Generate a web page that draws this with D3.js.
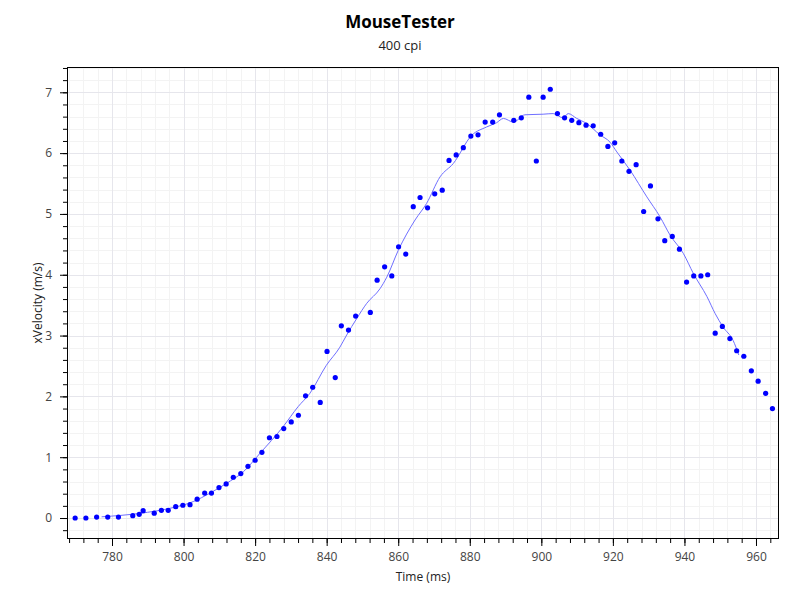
<!DOCTYPE html>
<html><head><meta charset="utf-8">
<script src="https://cdn.jsdelivr.net/npm/d3@7"></script>
<style>body{margin:0;background:#fff;} svg{display:block;font-family:"Open Sans","Noto Sans",sans-serif;}</style>
</head><body><svg id="c" width="800" height="600"></svg>
<script>
const title = "MouseTester";
const subtitle = "400 cpi";
const xTitle = "Time (ms)";
const yTitle = "xVelocity (m/s)";
const xTicks = [780, 800, 820, 840, 860, 880, 900, 920, 940, 960];
const yTicks = [0, 1, 2, 3, 4, 5, 6, 7];
// measured points
const pointTime = [769.7,772.7,775.7,778.8,781.8,785.8,787.6,788.7,791.8,793.8,795.7,797.8,799.8,801.8,803.8,805.9,807.8,809.9,811.9,813.9,816.0,818.0,820.0,821.9,824.0,826.1,828.0,830.1,832.1,834.1,836.1,838.2,840.1,842.4,844.1,846.1,848.1,852.2,854.1,856.2,858.2,860.1,862.1,864.2,866.1,868.2,870.2,872.3,874.2,876.2,878.2,880.3,882.3,884.3,886.4,888.3,892.3,894.4,896.5,898.6,900.5,902.5,904.5,906.5,908.5,910.5,912.5,914.5,916.6,918.6,920.5,922.5,924.5,926.5,928.6,930.5,932.6,934.5,936.6,938.6,940.6,942.6,944.6,946.5,948.6,950.6,952.7,954.6,956.6,958.7,960.6,962.7,964.6];
const pointVel = [0.0,0.0,0.016,0.016,0.016,0.038,0.06,0.12,0.08,0.127,0.127,0.186,0.21,0.22,0.31,0.41,0.41,0.50,0.56,0.67,0.73,0.85,0.95,1.08,1.32,1.34,1.47,1.58,1.69,2.01,2.15,1.90,2.74,2.31,3.16,3.09,3.32,3.38,3.91,4.13,3.98,4.46,4.34,5.12,5.27,5.10,5.33,5.39,5.88,5.97,6.09,6.28,6.30,6.51,6.51,6.63,6.54,6.58,6.92,5.87,6.92,7.05,6.65,6.58,6.54,6.50,6.46,6.45,6.31,6.11,6.17,5.87,5.70,5.81,5.04,5.46,4.92,4.56,4.63,4.42,3.88,3.98,3.98,4.00,3.04,3.15,2.95,2.75,2.66,2.42,2.25,2.05,1.80];
// smoothed line
const lineTime = [777.1,787.8,796.2,802.7,807.4,812.0,816.7,821.3,827.8,832.0,835.3,839.9,843.7,845.6,848.4,851.2,854.9,856.8,860.0,864.7,867.9,871.7,875.4,880.5,884.7,887.5,889.4,892.2,895.4,900.5,903.3,906.1,907.5,909.9,912.6,916.4,919.2,921.1,924.8,929.5,933.2,936.0,939.7,942.5,946.3,948.6,950.8,953.6,955.2];
const lineVel = [0.02,0.077,0.16,0.27,0.41,0.57,0.76,1.06,1.50,1.83,2.05,2.51,2.81,3.01,3.28,3.53,3.77,3.96,4.40,4.90,5.17,5.61,5.83,6.29,6.43,6.50,6.57,6.51,6.63,6.64,6.65,6.58,6.65,6.57,6.49,6.30,6.18,6.02,5.72,5.28,4.95,4.65,4.35,4.02,3.64,3.36,3.14,2.92,2.68];

const svg = d3.select("#c");
const L = 67, R = 779, T = 67, B = 539;
const x = d3.scaleLinear().domain([767.42, 966.43]).range([L, R]);
const y = d3.scaleLinear().domain([-0.345, 7.416]).range([B, T]);

// grid
const xMinor = d3.range(768, 967, 4);
const yMinor = d3.range(-0.2, 7.41, 0.2).map(v => Math.round(v*10)/10);
const g = svg.append("g");
g.selectAll(".xm").data(xMinor).join("line").attr("x1", d=>Math.round(x(d))+0.5).attr("x2", d=>Math.round(x(d))+0.5).attr("y1", T).attr("y2", B).attr("stroke", "#f3f3f3");
g.selectAll(".ym").data(yMinor).join("line").attr("y1", d=>Math.round(y(d))+0.5).attr("y2", d=>Math.round(y(d))+0.5).attr("x1", L).attr("x2", R).attr("stroke", "#f3f3f3");
g.selectAll(".xM").data(xTicks).join("line").attr("x1", d=>Math.round(x(d))+0.5).attr("x2", d=>Math.round(x(d))+0.5).attr("y1", T).attr("y2", B).attr("stroke", "#e6e6ec");
g.selectAll(".yM").data(yTicks).join("line").attr("y1", d=>Math.round(y(d))+0.5).attr("y2", d=>Math.round(y(d))+0.5).attr("x1", L).attr("x2", R).attr("stroke", "#e6e6ec");

// axes
const xAxisMinor = d3.axisBottom(x).tickValues(xMinor).tickSize(4).tickFormat("");
const xAxis = d3.axisBottom(x).tickValues(xTicks).tickSize(7).tickPadding(6).tickFormat(d3.format("d"));
const yAxisMinor = d3.axisLeft(y).tickValues(yMinor).tickSize(4).tickFormat("");
const yAxis = d3.axisLeft(y).tickValues(yTicks).tickSize(7).tickPadding(8).tickFormat(d3.format("d"));
function style(sel){ sel.select(".domain").remove(); sel.selectAll("line").attr("stroke","#000"); sel.selectAll("text").attr("fill","#444").style("font-size","12px").style("font-family","'Open Sans','Noto Sans',sans-serif"); }
svg.append("g").attr("transform", `translate(0,${B})`).call(xAxisMinor).call(style);
svg.append("g").attr("transform", `translate(0,${B})`).call(xAxis).call(style);
svg.append("g").attr("transform", `translate(${L},0)`).call(yAxisMinor).call(style);
svg.append("g").attr("transform", `translate(${L},0)`).call(yAxis).call(style);

// frame
svg.append("rect").attr("x", L+0.5).attr("y", T+0.5).attr("width", R-L-1).attr("height", B-T-1).attr("fill","none").attr("stroke","#000").attr("stroke-width",1);

// clip
svg.append("clipPath").attr("id","clip").append("rect").attr("x",L).attr("y",T).attr("width",R-L).attr("height",B-T);
const plot = svg.append("g").attr("clip-path","url(#clip)");

const lineData = lineTime.map((t,i)=>[t, lineVel[i]]);
plot.append("path").datum(lineData)
  .attr("d", d3.line().x(d=>x(d[0])).y(d=>y(d[1])).curve(d3.curveMonotoneX))
  .attr("fill","none").attr("stroke","#6f6fff").attr("stroke-width",1);

const pts = pointTime.map((t,i)=>[t, pointVel[i]]);
plot.selectAll(".pt").data(pts).join("circle")
  .attr("cx", d=>x(d[0])).attr("cy", d=>y(d[1])).attr("r", 2.6).attr("fill","#0000ff");

// titles
svg.append("text").attr("x",400).attr("y",28).attr("text-anchor","middle").style("font-size","17px").style("font-weight","bold").attr("fill","#000").text(title);
svg.append("text").attr("x",400).attr("y",50).attr("text-anchor","middle").style("font-size","13px").attr("fill","#222").text(subtitle);
svg.append("text").attr("x",(L+R)/2).attr("y",581).attr("text-anchor","middle").style("font-size","12px").attr("fill","#222").text(xTitle);
svg.append("text").attr("transform",`translate(42,${(T+B)/2}) rotate(-90)`).attr("text-anchor","middle").style("font-size","12px").attr("fill","#222").text(yTitle);
</script></body></html>
